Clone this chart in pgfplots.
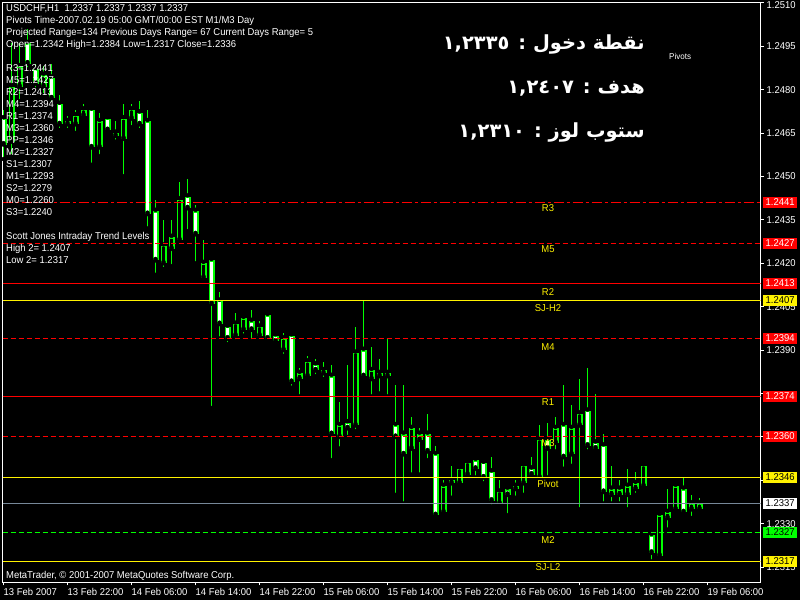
\documentclass[border=0pt]{standalone}
\usepackage{pgfplots}
\pgfplotsset{compat=1.18}
\usepackage{pgfplotstable}
\usepackage{fontspec}
\setmainfont{Liberation Sans}[FakeStretch=0.95]
\newfontfamily\arabicfont[Script=Arabic]{DejaVu Sans}
\TeXXeTstate=1
\definecolor{cg}{RGB}{0,255,0}
\definecolor{bidgray}{RGB}{119,136,153}
\newcommand\mt{\fontsize{10}{12}\selectfont}

\pgfplotstableread{
i o h l c
0 1.2470 1.2473 1.2456 1.2461
1 1.2462 1.2496 1.2457 1.2481
2 1.2481 1.2496 1.2476 1.2488
3 1.2496 1.2501 1.2487 1.2489
4 1.2487 1.2489 1.2480 1.2482
5 1.2481 1.2488 1.2478 1.2485
6 1.2484 1.2489 1.2475 1.2477
7 1.2475 1.2478 1.2466 1.2468
8 1.2469 1.2471 1.2466 1.2468
9 1.2468 1.2473 1.2465 1.2471
10 1.2471 1.2475 1.2470 1.2473
11 1.2473 1.2474 1.2454 1.2460
12 1.2460 1.2472 1.2457 1.2469
13 1.2470 1.2471 1.2465 1.2466
14 1.2464 1.2469 1.2462 1.2465
15 1.2463 1.2475 1.2450 1.2470
16 1.2470 1.2475 1.2467 1.2473
17 1.2472 1.2476 1.2466 1.2468
18 1.2469 1.2473 1.2432 1.2437
19 1.2438 1.2442 1.2416 1.2421
20 1.2420 1.2435 1.2418 1.2426
21 1.2425 1.2435 1.2419 1.2429
22 1.2428 1.2448 1.2427 1.2442
23 1.2443 1.2449 1.2431 1.2439
24 1.2438 1.2440 1.2420 1.2430
25 1.2415 1.2428 1.2414 1.2420
26 1.2421 1.2422 1.2370 1.2406
27 1.2407 1.2410 1.2394 1.2399
28 1.2398 1.2399 1.2392 1.2394
29 1.2395 1.2403 1.2393 1.2399
30 1.2397 1.2402 1.2395 1.2401
31 1.2400 1.2404 1.2393 1.2397
32 1.2395 1.2400 1.2394 1.2398
33 1.2402 1.2403 1.2393 1.2394
34 1.2395 1.2396 1.2392 1.2393
35 1.2390 1.2396 1.2388 1.2394
36 1.2395 1.2395 1.2377 1.2379
37 1.2380 1.2384 1.2374 1.2382
38 1.2381 1.2388 1.2380 1.2386
39 1.2385 1.2387 1.2381 1.2383
40 1.2383 1.2386 1.2380 1.2382
41 1.2381 1.2385 1.2352 1.2361
42 1.2360 1.2372 1.2356 1.2364
43 1.2365 1.2385 1.2360 1.2363
44 1.2364 1.2398 1.2362 1.2389
45 1.2390 1.2407 1.2380 1.2381
46 1.2380 1.2391 1.2374 1.2383
47 1.2381 1.2387 1.2375 1.2382
48 1.2381 1.2394 1.2374 1.2382
49 1.2364 1.2378 1.2340 1.2360
50 1.2361 1.2378 1.2337 1.2354
51 1.2356 1.2367 1.2347 1.2363
52 1.2361 1.2363 1.2347 1.2359
53 1.2361 1.2368 1.2352 1.2355
54 1.2354 1.2357 1.2332 1.2333
55 1.2334 1.2345 1.2333 1.2343
56 1.2344 1.2350 1.2339 1.2345
57 1.2344 1.2350 1.2343 1.2349
58 1.2347 1.2352 1.2346 1.2351
59 1.2352 1.2353 1.2346 1.2349
60 1.2351 1.2352 1.2344 1.2346
61 1.2348 1.2353 1.2336 1.2338
62 1.2337 1.2345 1.2336 1.2341
63 1.2342 1.2343 1.2333 1.2340
64 1.2342 1.2345 1.2339 1.2343
65 1.2344 1.2351 1.2340 1.2350
66 1.2349 1.2353 1.2346 1.2347
67 1.2346 1.2364 1.2345 1.2359
68 1.2359 1.2365 1.2346 1.2356
69 1.2358 1.2367 1.2355 1.2363
70 1.2364 1.2378 1.2349 1.2353
71 1.2354 1.2371 1.2350 1.2363
72 1.2364 1.2380 1.2335 1.2368
73 1.2369 1.2384 1.2355 1.2357
74 1.2358 1.2375 1.2355 1.2356
75 1.2357 1.2361 1.2337 1.2341
76 1.2340 1.2350 1.2337 1.2342
77 1.2340 1.2345 1.2337 1.2342
78 1.2340 1.2349 1.2335 1.2343
79 1.2342 1.2348 1.2340 1.2344
80 1.2343 1.2351 1.2342 1.2350
81 1.2326 1.2327 1.2317 1.2320
82 1.2319 1.2334 1.2318 1.2333
83 1.2332 1.2342 1.2328 1.2334
84 1.2335 1.2344 1.2334 1.2343
85 1.2342 1.2346 1.2333 1.2334
86 1.2335 1.2340 1.2332 1.2337
87 1.2335 1.2339 1.2334 1.2337
}\candles

\begin{document}
\begin{tikzpicture}[x=1bp, y=1bp]
\useasboundingbox (0,0) rectangle (800,600);
\fill[black] (0,0) rectangle (800,600);
\begin{axis}[
  at={(2.5bp,17.5bp)}, anchor=south west, scale only axis,
  width=758bp, height=580bp,
  xmin=-0.125, xmax=94.625, ymin=1.230974, ymax=1.2510085,
  clip mode=individual,
  axis line style={white, line width=1bp},
  tick style={white, line width=1bp},
  tick align=outside, major tick length=3bp,
  xtick pos=left, ytick pos=right, yticklabel pos=right,
  xtick={0,8,16,24,32,40,48,56,64,72,80,88},
  xticklabels={13 Feb 2007,13 Feb 22:00,14 Feb 06:00,14 Feb 14:00,14 Feb 22:00,15 Feb 06:00,15 Feb 14:00,15 Feb 22:00,16 Feb 06:00,16 Feb 14:00,16 Feb 22:00,19 Feb 06:00},
  ytick={1.2315,1.2330,1.2345,1.2360,1.2375,1.2390,1.2405,1.2420,1.2435,1.2450,1.2465,1.2480,1.2495},
  yticklabels={1.2315,1.2330,{},{},{},1.2390,1.2405,1.2420,1.2435,1.2450,1.2465,1.2480,1.2495},
  extra y ticks={1.2510},
  extra y tick labels={1.2510},
  extra y tick style={yticklabel style={yshift=-2.5bp}},
  tick label style={font=\mt, text=white, inner sep=0pt},
  xticklabel style={anchor=north west, yshift=-3bp},
  yticklabel style={anchor=west, xshift=3bp},
]
% wicks
\addplot[forget plot, only marks, mark=none,
  error bars/.cd, y dir=plus, y explicit, error mark=none,
  error bar style={cg, line width=1.8bp}]
  table[x=i, y=l, y error plus expr=\thisrow{h}-\thisrow{l}] {\candles};
% body outline
\addplot[forget plot, only marks, mark=none,
  error bars/.cd, y dir=plus, y explicit, error mark=none,
  error bar style={cg, line width=6bp}]
  table[x=i, y expr={min(\thisrow{o},\thisrow{c})}, y error plus expr={abs(\thisrow{o}-\thisrow{c})}] {\candles};
% bear bodies (white)
\addplot[forget plot, only marks, mark=none,
  error bars/.cd, y dir=plus, y explicit, error mark=none,
  error bar style={white, line width=3bp}]
  table[x=i, y expr={\thisrow{c}+0.0000485}, y error plus expr={max(\thisrow{o}-\thisrow{c}-0.000097,0)}] {\candles};
% bull bodies (black)
\addplot[forget plot, only marks, mark=none,
  error bars/.cd, y dir=plus, y explicit, error mark=none,
  error bar style={black, line width=3bp}]
  table[x=i, y expr={\thisrow{o}+0.0000485}, y error plus expr={max(\thisrow{c}-\thisrow{o}-0.000097,0)}] {\candles};

% level lines (small shifts only align them to the pixel grid)
\addplot[red, line width=1.3bp, dash pattern=on 10bp off 3bp on 3bp off 3bp] coordinates {(-0.125,1.2441) (94.625,1.2441)};
\addplot[red, line width=1.3bp, dash pattern=on 5bp off 3bp, yshift=-0.47bp] coordinates {(-0.125,1.2427) (94.625,1.2427)};
\addplot[red, line width=1.3bp] coordinates {(-0.125,1.2413) (94.625,1.2413)};
\addplot[yellow, line width=1.3bp, yshift=0.43bp] coordinates {(-0.125,1.2407) (94.625,1.2407)};
\addplot[red, line width=1.3bp, dash pattern=on 5bp off 3bp] coordinates {(-0.125,1.2394) (94.625,1.2394)};
\addplot[red, line width=1.3bp] coordinates {(-0.125,1.2374) (94.625,1.2374)};
\addplot[red, line width=1.3bp, dash pattern=on 5bp off 3bp, yshift=0.5bp] coordinates {(-0.125,1.2360) (94.625,1.2360)};
\addplot[yellow, line width=1.3bp] coordinates {(-0.125,1.2346) (94.625,1.2346)};
\addplot[bidgray, line width=1.3bp] coordinates {(-0.125,1.2337) (94.625,1.2337)};
\addplot[cg, line width=1.3bp, dash pattern=on 5bp off 3bp] coordinates {(-0.125,1.2327) (94.625,1.2327)};
\addplot[yellow, line width=1.3bp] coordinates {(-0.125,1.2317) (94.625,1.2317)};
\end{axis}

% level names
\begin{scope}[every node/.style={anchor=base, inner sep=0pt, text=yellow, font=\mt}]
\node at (548,388.5) {R3};
\node at (548,347.5) {M5};
\node at (548,304.5) {R2};
\node at (548,288.5) {SJ-H2};
\node at (548,249.5) {M4};
\node at (548,194.5) {R1};
\node at (548,153.5) {M3};
\node at (548,112.5) {Pivot};
\node at (548,56.5) {M2};
\node at (548,29.5) {SJ-L2};
\end{scope}

% price boxes
\begin{scope}[every node/.style={anchor=west, inner sep=0pt, minimum width=34bp, minimum height=11bp, font=\mt}]
\node[fill=red, text=white] at (763,397.5) {1.2441};
\node[fill=red, text=white] at (763,356.5) {1.2427};
\node[fill=red, text=white] at (763,316.5) {1.2413};
\node[fill=yellow, text=black] at (763,299.5) {1.2407};
\node[fill=red, text=white] at (763,261.5) {1.2394};
\node[fill=red, text=white] at (763,203.5) {1.2374};
\node[fill=red, text=white] at (763,163.5) {1.2360};
\node[fill=yellow, text=black] at (763,122.5) {1.2346};
\node[fill=white, text=black] at (763,96.5) {1.2337};
\node[fill=cg, text=black] at (763,67.5) {1.2327};
\node[fill=yellow, text=black] at (763,38.5) {1.2317};
\end{scope}

% info text
\begin{scope}[every node/.style={anchor=base west, inner sep=0pt, text=white, font=\mt}]
\node at (6,588) {USDCHF,H1\ \ 1.2337 1.2337 1.2337 1.2337};
\node at (6,576) {Pivots Time-2007.02.19 05:00 GMT/00:00 EST M1/M3 Day};
\node at (6,564) {Projected Range=134 Previous Days Range= 67 Current Days Range= 5};
\node at (6,552) {Open=1.2342 High=1.2384 Low=1.2317 Close=1.2336};
\node at (6,528) {R3=1.2441};
\node at (6,516) {M5=1.2427};
\node at (6,504) {R2=1.2413};
\node at (6,492) {M4=1.2394};
\node at (6,480) {R1=1.2374};
\node at (6,468) {M3=1.2360};
\node at (6,456) {PP=1.2346};
\node at (6,444) {M2=1.2327};
\node at (6,432) {S1=1.2307};
\node at (6,420) {M1=1.2293};
\node at (6,408) {S2=1.2279};
\node at (6,396) {M0=1.2260};
\node at (6,384) {S3=1.2240};
\node at (6,360) {Scott Jones Intraday Trend Levels};
\node at (6,348) {High 2= 1.2407};
\node at (6,336) {Low 2= 1.2317};
\node at (6,21.5) {MetaTrader, © 2001-2007 MetaQuotes Software Corp.};
\node[font=\fontsize{8.5}{10}\selectfont] at (669,540.5) {Pivots};
\end{scope}

% Arabic annotations
\begin{scope}[every node/.style={anchor=base east, inner sep=0pt, text=white, font=\arabicfont\bfseries\fontsize{19.5}{23}\selectfont}]
\node at (645,550) {\beginR نقطة دخول : \beginL ١,٢٣٣٥\endL\endR};
\node at (645,506) {\beginR هدف : \beginL ١,٢٤٠٧\endL\endR};
\node at (645,462) {\beginR ستوب لوز : \beginL ١,٢٣١٠\endL\endR};
\end{scope}
\end{tikzpicture}
\end{document}
